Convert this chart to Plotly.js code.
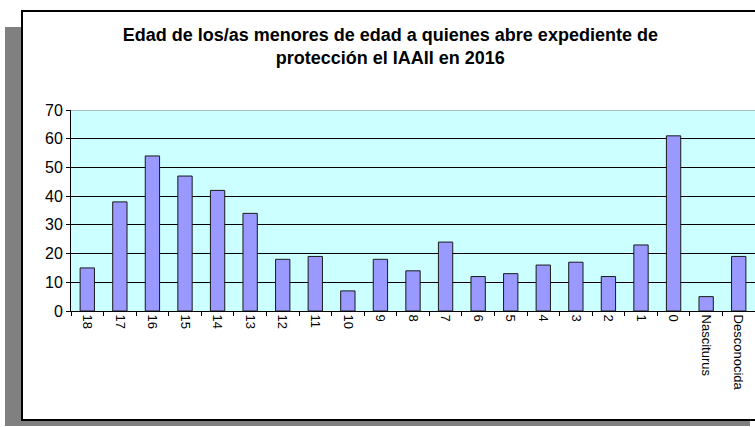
<!DOCTYPE html>
<html>
<head>
<meta charset="utf-8">
<script src="https://cdn.plot.ly/plotly-3.0.1.min.js"></script>
<style>
  body { margin: 0; background: #fff; }
  #shadow { position: absolute; left: 5px; top: 27px; width: 745px; height: 399px; background: #808080; }
  #frame { position: absolute; left: 21px; top: 10px; width: 760px; height: 407px; background: #fff; border: 2px solid #000; }
  #chart { position: absolute; left: 0; top: 0; width: 755px; height: 427px; }
</style>
</head>
<body>
<div id="shadow"></div>
<div id="frame"></div>
<div id="chart"></div>
<script>
// Edad de los menores con expediente abierto, 2016
const ages = ["18", "17", "16", "15", "14", "13", "12", "11", "10", "9", "8",
  "7", "6", "5", "4", "3", "2", "1", "0", "Nasciturus", "Desconocida"];
const counts = [15, 38, 54, 47, 42, 34, 18, 19, 7, 18, 14,
  24, 12, 13, 16, 17, 12, 23, 61, 5, 19];
const yTicks = [0, 10, 20, 30, 40, 50, 60, 70];

const bars = {
  type: "bar",
  x: ages,
  y: counts,
  width: 0.44,
  marker: {
    color: "#9999ff",
    line: { color: "#1a1a1a", width: 1 },
  },
  hoverinfo: "x+y",
};

const layout = {
  width: 755,
  height: 427,
  margin: { t: 110, r: 0, b: 116, l: 71 },
  paper_bgcolor: "rgba(0,0,0,0)",
  plot_bgcolor: "#ccffff",
  font: { family: "Liberation Sans, Arial, sans-serif", color: "#000" },
  title: {
    text: "<b>Edad de los/as menores de edad a quienes abre expediente de<br>protección el IAAII en 2016</b>",
    font: { size: 18, color: "#000" },
    x: 0.517,
    xanchor: "center",
    y: 0.905,
    yanchor: "middle",
  },
  showlegend: false,
  xaxis: {
    type: "category",
    tickson: "boundaries",
    ticks: "outside",
    ticklen: 4,
    tickcolor: "#000",
    showline: true,
    linecolor: "#000",
    linewidth: 1,
    showgrid: false,
    tickangle: 90,
    tickfont: { size: 13 },
  },
  yaxis: {
    range: [0, 70],
    tickvals: yTicks,
    ticks: "outside",
    ticklen: 4,
    tickcolor: "#000",
    showline: true,
    linecolor: "#000",
    linewidth: 1,
    showgrid: true,
    gridcolor: "#000",
    gridwidth: 1,
    zeroline: false,
    tickfont: { size: 16 },
    ticksuffix: " ",
  },
  shapes: [
    {
      type: "line", xref: "paper", yref: "y",
      x0: 0, x1: 1, y0: 70, y1: 70,
      line: { color: "#808080", width: 1 },
    },
  ],
};

Plotly.newPlot("chart", [bars], layout, { displayModeBar: false });
</script>
</body>
</html>
